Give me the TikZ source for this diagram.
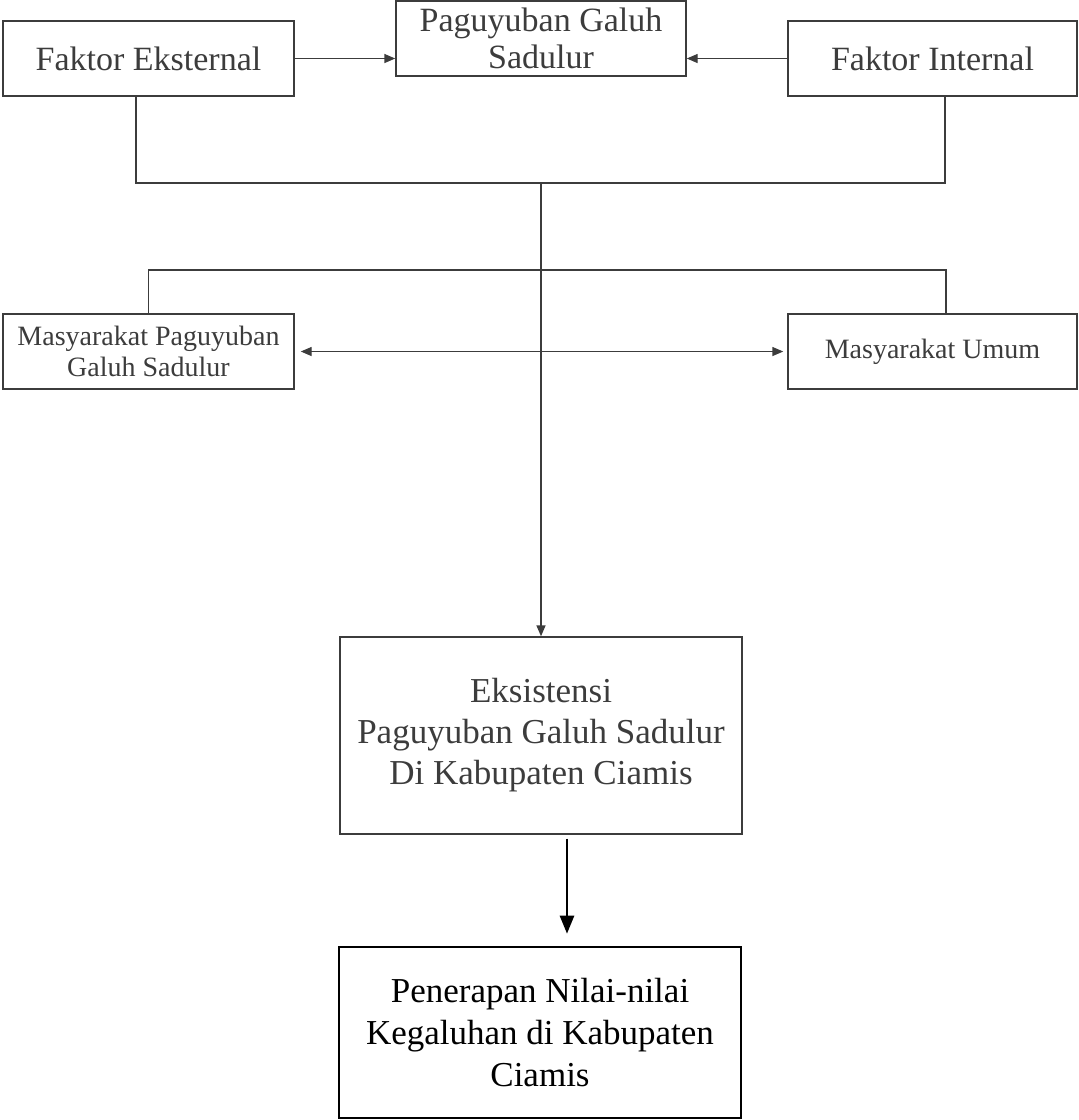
\documentclass[tikz,border=0pt]{standalone}
\usepackage{fontspec}
\setmainfont{Liberation Serif}
\usetikzlibrary{arrows.meta}
\definecolor{scangray}{HTML}{3C3C3C}

\tikzset{
  box/.style={draw=scangray,line width=1.4pt,text=scangray,inner sep=0pt,align=center},
  bigfont/.style={font=\fontsize{34}{37}\selectfont},
  smallfont/.style={font=\fontsize{28}{31}\selectfont},
  link/.style={draw=scangray,line width=1.4pt},
  tip/.style={-{Triangle[length=11pt,width=9pt]}}
}

\begin{document}
\begin{tikzpicture}[x=1pt,y=-1pt]
\useasboundingbox (0,0) rectangle (1079,1120);
% top row
\node[box,bigfont,minimum width=291,minimum height=75] (ext) at (148.5,58.5) {Faktor Eksternal};
\node[box,bigfont,minimum width=290,minimum height=75] (pgs) at (541,38.5) {Paguyuban Galuh\\Sadulur};
\node[box,bigfont,minimum width=289,minimum height=75] (int) at (932.5,58.5) {Faktor Internal};
% middle row
\node[box,smallfont,minimum width=291,minimum height=75] (mpgs) at (148.5,351.5) {Masyarakat Paguyuban\\Galuh Sadulur};
\node[box,smallfont,minimum width=289,minimum height=75] (mu) at (932.5,351.5) {Masyarakat Umum};
% bottom
\node[box,font=\fontsize{35}{41}\selectfont,minimum width=402,minimum height=197] (eks) at (541,735.5) {Eksistensi\\Paguyuban Galuh Sadulur\\Di Kabupaten Ciamis};
\node[draw=black,line width=2.6pt,inner sep=0pt,align=center,font=\fontsize{35}{42}\selectfont,minimum width=402,minimum height=171] (pen) at (540,1032.5) {Penerapan Nilai-nilai\\Kegaluhan di Kabupaten\\Ciamis};

\coordinate (join) at (541,183);
\coordinate (split) at (541,270);

\draw[link,tip] (ext.east) -- (ext.east -| pgs.west);
\draw[link,tip] (int.west) -- (int.west -| pgs.east);
\draw[link] ([xshift=-12.5]ext.south) |- (join) -| ([xshift=12.5]int.south);
\draw[link,tip] (join) -- (eks.north);
\draw[link] (mpgs.north) |- (split) -| ([xshift=13.5]mu.north);
\draw[link,{Triangle[length=11pt,width=9pt]}-{Triangle[length=11pt,width=9pt]},shorten <=6,shorten >=4] (mpgs.east) -- (mu.west);
\draw[line width=2.6pt,-{Triangle[length=18pt,width=14pt]},shorten <=4,shorten >=12] ([xshift=26]eks.south) -- ([xshift=27]pen.north);
\end{tikzpicture}
\end{document}
